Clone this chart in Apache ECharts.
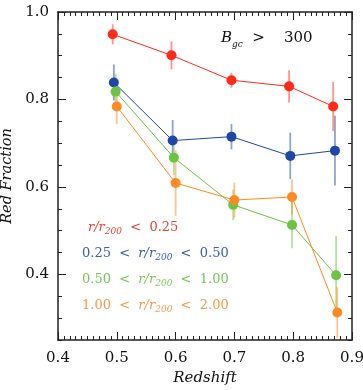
<!DOCTYPE html>
<html>
<head>
<meta charset="utf-8">
<script src="https://cdn.jsdelivr.net/npm/echarts@6/dist/echarts.min.js"></script>
<style>
  html, body { margin: 0; padding: 0; background: #fff; }
  #chart { width: 363px; height: 390px; }
</style>
</head>
<body>
<div id="chart"></div>
<script>
// red fraction vs redshift, four radial bins
var xRed = [0.493, 0.593, 0.695, 0.793, 0.868]
var yRed = [0.949, 0.901, 0.844, 0.830, 0.784]
var eRed = [0.023, 0.032, 0.017, 0.037, 0.056]

var xBlue = [0.495, 0.595, 0.695, 0.795, 0.871]
var yBlue = [0.839, 0.706, 0.715, 0.671, 0.683]
var eBlue = [0.041, 0.047, 0.029, 0.053, 0.080]

var xGreen = [0.498, 0.597, 0.698, 0.798, 0.873]
var yGreen = [0.818, 0.667, 0.559, 0.513, 0.398]
var eGreen = [0.040, 0.040, 0.035, 0.053, 0.090]

var xOrange = [0.500, 0.600, 0.700, 0.798, 0.875]
var yOrange = [0.784, 0.609, 0.570, 0.577, 0.313]
var eOrange = [0.040, 0.075, 0.040, 0.040, 0.058]

var yTicks = [0.4, 0.6, 0.8, 1.0]

var font = 'DejaVu Serif'
var colors = ['#ff2a17', '#1f47a6', '#6cc440', '#ff8a24']
var textColors = ['#e8443a', '#3b5fae', '#7cc65a', '#f59a4a']

function pairs(xs, ys, es) {
  var out = []
  for (var i = 0; i < xs.length; i++) {
    out.push(es ? [xs[i], ys[i], es[i]] : [xs[i], ys[i]])
  }
  return out
}

function errSeries(xs, ys, es, color) {
  return {
    type: 'custom',
    data: pairs(xs, ys, es),
    z: 2,
    renderItem: function (params, api) {
      var x = api.value(0), y = api.value(1), e = api.value(2)
      var p1 = api.coord([x, y - e])
      var p2 = api.coord([x, y + e])
      return {
        type: 'line',
        shape: { x1: p1[0], y1: p1[1], x2: p2[0], y2: p2[1] },
        style: { stroke: color, lineWidth: 1.8, opacity: 0.5 }
      }
    }
  }
}

function lineSeries(xs, ys, color) {
  return {
    type: 'line',
    data: pairs(xs, ys),
    z: 3,
    symbol: 'circle',
    symbolSize: 10,
    lineStyle: { color: color, width: 1 },
    itemStyle: { color: color },
    animation: false
  }
}

function legendText(y, pre, post, color) {
  return {
    type: 'text',
    left: pre ? 82 : 88,
    top: y,
    style: {
      text: (pre ? '{n|' + pre + '  <  }' : '') + '{i|r/r}{s|200}{n|  <  ' + post + '}',
      fill: color,
      rich: {
        n: { fontFamily: font, fontSize: 13, fill: color, lineHeight: 18, verticalAlign: 'middle' },
        i: { fontFamily: font, fontStyle: 'italic', fontSize: 13, fill: color, lineHeight: 18, verticalAlign: 'middle' },
        s: { fontFamily: font, fontStyle: 'italic', fontSize: 9, fill: color, lineHeight: 18, verticalAlign: 'bottom' }
      }
    }
  }
}

var chart = echarts.init(document.getElementById('chart'))

var axisLine = { lineStyle: { color: '#222', width: 1.5 } }
var tickStyle = { color: '#222', width: 1 }

function minorY(position) {
  return {
    type: 'value', min: 0.25, max: 1.0, interval: 0.05, position: position,
    axisLine: { show: false },
    axisTick: { show: true, inside: true, length: 4, lineStyle: tickStyle },
    splitLine: { show: false },
    axisLabel: { show: false }
  }
}

chart.setOption({
  animation: false,
  grid: { left: 58, right: 11, top: 12, bottom: 50, containLabel: false, outerBoundsMode: 'none' },
  xAxis: [{
    type: 'value', min: 0.4, max: 0.9, interval: 0.1,
    axisLine: axisLine,
    axisTick: { inside: true, length: 8, lineStyle: tickStyle },
    minorTick: { show: true, splitNumber: 10, length: 4, lineStyle: tickStyle },
    splitLine: { show: false },
    axisLabel: { fontFamily: font, fontSize: 15, color: '#111', margin: 11,
      formatter: function (v) { return v.toFixed(1) } },
    name: 'Redshift', nameLocation: 'middle', nameGap: 30,
    nameTextStyle: { fontFamily: font, fontStyle: 'italic', fontSize: 15, color: '#111' }
  }, {
    type: 'value', min: 0.4, max: 0.9, interval: 0.1, position: 'top',
    axisLine: axisLine,
    axisTick: { inside: true, length: 8, lineStyle: tickStyle },
    minorTick: { show: true, splitNumber: 10, length: 4, lineStyle: tickStyle },
    splitLine: { show: false },
    axisLabel: { show: false }
  }],
  yAxis: [{
    type: 'value', min: 0.25, max: 1.0,
    axisLine: axisLine,
    axisTick: { inside: true, length: 8, customValues: yTicks, lineStyle: tickStyle },
    splitLine: { show: false },
    axisLabel: { fontFamily: font, fontSize: 15, color: '#111', margin: 9, customValues: yTicks,
      formatter: function (v) { return v.toFixed(1) } },
    name: 'Red Fraction', nameLocation: 'middle', nameGap: 36,
    nameTextStyle: { fontFamily: font, fontStyle: 'italic', fontSize: 14.5, color: '#111' }
  }, {
    type: 'value', min: 0.25, max: 1.0, position: 'right',
    axisLine: axisLine,
    axisTick: { inside: true, length: 8, customValues: yTicks, lineStyle: tickStyle },
    splitLine: { show: false },
    axisLabel: { show: false }
  },
  minorY('left'),
  minorY('right')],
  graphic: [
    {
      type: 'text', left: 221, top: 31,
      style: {
        text: '{b|B}{s|gc}{n|  >    300}',
        rich: {
          b: { fontFamily: font, fontStyle: 'italic', fontSize: 15, fill: '#111', lineHeight: 20, verticalAlign: 'middle' },
          s: { fontFamily: font, fontStyle: 'italic', fontSize: 9, fill: '#111', lineHeight: 21, verticalAlign: 'bottom' },
          n: { fontFamily: font, fontSize: 15, fill: '#111', lineHeight: 20, verticalAlign: 'middle' }
        }
      }
    },
    legendText(221, null, '0.25', textColors[0]),
    legendText(247, '0.25', '0.50', textColors[1]),
    legendText(273, '0.50', '1.00', textColors[2]),
    legendText(299, '1.00', '2.00', textColors[3])
  ],
  series: [
    errSeries(xRed, yRed, eRed, colors[0]),
    errSeries(xBlue, yBlue, eBlue, colors[1]),
    errSeries(xGreen, yGreen, eGreen, colors[2]),
    errSeries(xOrange, yOrange, eOrange, colors[3]),
    lineSeries(xRed, yRed, colors[0]),
    lineSeries(xBlue, yBlue, colors[1]),
    lineSeries(xGreen, yGreen, colors[2]),
    lineSeries(xOrange, yOrange, colors[3])
  ]
})
</script>
</body>
</html>
